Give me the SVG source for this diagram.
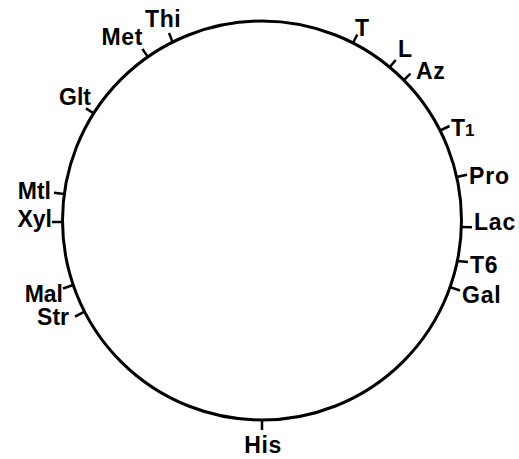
<svg xmlns="http://www.w3.org/2000/svg" width="519" height="459" viewBox="0 0 519 459">
<style>
.ring{fill:none;stroke:#000;stroke-width:3}
.tick{stroke:#000;stroke-width:2.5;stroke-linecap:butt}
.lbl{font-family:"Liberation Sans",Arial,sans-serif;font-weight:bold;font-size:23px;fill:#000}
.e{text-anchor:end}
.m{text-anchor:middle}
</style>
<rect width="519" height="459" fill="#fff"/>
<g id="map">
<circle class="ring" cx="262" cy="220.5" r="199.5"/>
</g>
<g id="markers">
<g id="Thi"><line class="tick" x1="172.6" y1="42.1" x2="169" y2="33"/><text class="lbl" x="145" y="27" letter-spacing="0.6">Thi</text></g>
<g id="Met"><line class="tick" x1="147.9" y1="56.9" x2="142.4" y2="49"/><text class="lbl e" x="143" y="45" letter-spacing="0.6">Met</text></g>
<g id="T"><line class="tick" x1="353" y1="43" x2="357.3" y2="34.5"/><text class="lbl" x="355" y="36">T</text></g>
<g id="L"><line class="tick" x1="389.7" y1="67.3" x2="395.7" y2="60"/><text class="lbl" x="398" y="57">L</text></g>
<g id="Az"><line class="tick" x1="403.8" y1="80.2" x2="410.5" y2="73.6"/><text class="lbl" x="416" y="79" letter-spacing="0.6">Az</text></g>
<g id="T1"><line class="tick" x1="440.2" y1="130.5" x2="449.5" y2="126"/><text class="lbl" x="451" y="136">T<tspan font-size="17">1</tspan></text></g>
<g id="Pro"><line class="tick" x1="456.7" y1="177" x2="467" y2="174.8"/><text class="lbl" x="469" y="184" letter-spacing="0.8">Pro</text></g>
<g id="Lac"><line class="tick" x1="461.3" y1="227" x2="472" y2="227.3"/><text class="lbl" x="474" y="230" letter-spacing="0.8">Lac</text></g>
<g id="T6"><line class="tick" x1="457.3" y1="261" x2="468" y2="262"/><text class="lbl" x="470" y="273" letter-spacing="0.8">T6</text></g>
<g id="Gal"><line class="tick" x1="450.1" y1="287.1" x2="460" y2="290.5"/><text class="lbl" x="462" y="303" letter-spacing="0.8">Gal</text></g>
<g id="His"><line class="tick" x1="262" y1="420" x2="262" y2="430"/><text class="lbl m" x="263" y="453" letter-spacing="0.6">His</text></g>
<g id="Str"><line class="tick" x1="84.6" y1="311.7" x2="75" y2="316.6"/><text class="lbl e" x="69" y="325">Str</text></g>
<g id="Mal"><line class="tick" x1="73.1" y1="285" x2="63" y2="288.5"/><text class="lbl e" x="63" y="302">Mal</text></g>
<g id="Xyl"><line class="tick" x1="62.5" y1="222" x2="52" y2="222"/><text class="lbl e" x="52" y="227">Xyl</text></g>
<g id="Mtl"><line class="tick" x1="64.3" y1="194" x2="54" y2="192.7"/><text class="lbl e" x="51" y="199">Mtl</text></g>
<g id="Glt"><line class="tick" x1="93.8" y1="113.4" x2="86" y2="108.4"/><text class="lbl e" x="91" y="105">Glt</text></g>
</g>
<g id="connectors"/>
</svg>
